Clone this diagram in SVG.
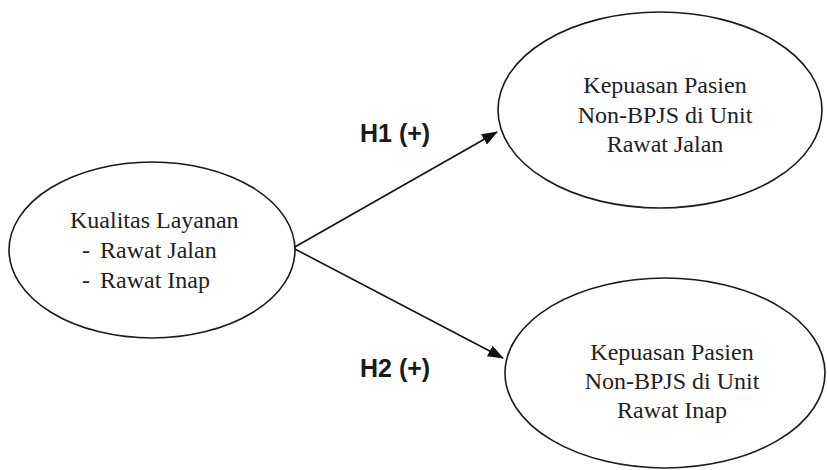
<svg xmlns="http://www.w3.org/2000/svg" width="827" height="470" viewBox="0 0 827 470">
<defs>
<marker id="ah" markerWidth="16" markerHeight="12" refX="15" refY="6" orient="auto" markerUnits="userSpaceOnUse">
<path d="M0,0 L16,6 L0,12 Z" fill="#111"/>
</marker>
<style>
.node{fill:#fff;stroke:#1a1a1a;stroke-width:1.6}
.t{font-family:"Liberation Serif","Times New Roman",serif;font-size:24px;fill:#222}
.m{text-anchor:middle}
.h{font-family:"Liberation Sans",Arial,sans-serif;font-size:25px;font-weight:bold;fill:#1a1a1a}
.c{stroke:#111;stroke-width:1.6;fill:none}
</style>
</defs>
<rect width="827" height="470" fill="#fff"/>
<g id="connectors">
<line class="c" x1="293" y1="248" x2="497" y2="132" marker-end="url(#ah)"/>
<line class="c" x1="293" y1="248" x2="503" y2="358" marker-end="url(#ah)"/>
<text class="h" x="360" y="142">H1 (+)</text>
<text class="h" x="360" y="377">H2 (+)</text>
</g>
<g id="kualitas">
<ellipse class="node" cx="152" cy="250" rx="143" ry="88"/>
<text class="t" x="70" y="228">Kualitas Layanan</text>
<text class="t" x="82" y="258">-</text>
<text class="t" x="100" y="258">Rawat Jalan</text>
<text class="t" x="82" y="288">-</text>
<text class="t" x="100" y="288">Rawat Inap</text>
</g>
<g id="jalan">
<ellipse class="node" cx="660" cy="110" rx="162" ry="98"/>
<text class="t m" x="665" y="93">Kepuasan Pasien</text>
<text class="t m" x="665" y="123">Non-BPJS di Unit</text>
<text class="t m" x="665" y="152">Rawat Jalan</text>
</g>
<g id="inap">
<ellipse class="node" cx="665" cy="373" rx="160" ry="95"/>
<text class="t m" x="672" y="360">Kepuasan Pasien</text>
<text class="t m" x="672" y="389">Non-BPJS di Unit</text>
<text class="t m" x="672" y="418">Rawat Inap</text>
</g>
</svg>
